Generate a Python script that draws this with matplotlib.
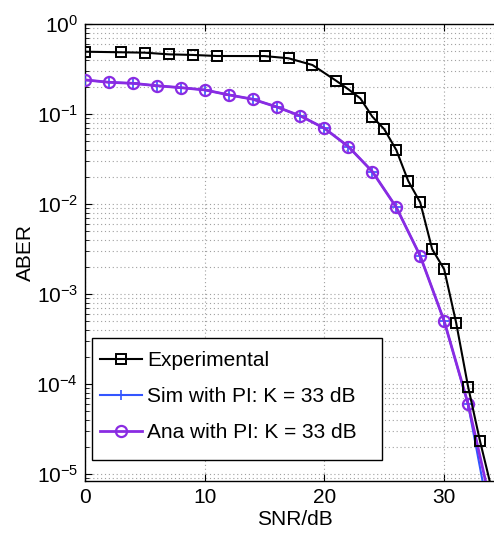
import matplotlib
matplotlib.use("Agg")
import matplotlib.pyplot as plt
from matplotlib.patches import Rectangle
from matplotlib.ticker import LogLocator, NullFormatter, FixedLocator

plt.rcParams['font.family'] = ['Liberation Sans', 'DejaVu Sans']
plt.rcParams['mathtext.fontset'] = 'custom'
plt.rcParams['mathtext.rm'] = 'Liberation Sans'
plt.rcParams['mathtext.it'] = 'Liberation Sans:italic'
plt.rcParams['mathtext.bf'] = 'Liberation Sans:bold'

# Data
exp_snr = [0, 3, 5, 7, 9, 11, 15, 17, 19, 21, 22, 23, 24, 25, 26, 27, 28, 29, 30, 31, 32, 33, 34]
exp_aber = [0.492, 0.485, 0.48, 0.46, 0.453, 0.441, 0.44, 0.416, 0.35, 0.233, 0.188, 0.149,
            0.0934, 0.0676, 0.0398, 0.018, 0.0104, 0.00314, 0.00188, 4.8e-4, 9.3e-5, 2.3e-5, 6.5e-6]

ana_snr = [0, 2, 4, 6, 8, 10, 12, 14, 16, 18, 20, 22, 24, 26, 28, 30, 32, 34]
ana_aber = [0.239, 0.225, 0.219, 0.206, 0.196, 0.185, 0.163, 0.146, 0.120, 0.095, 0.0693,
            0.0434, 0.0229, 0.00918, 0.00264, 5.0e-4, 6.0e-5, 4.0e-6]

sim_snr = [0, 2, 4, 6, 8, 10, 12, 14, 16, 18, 20, 22, 24, 26, 28, 30, 32, 34]
sim_aber = [0.239, 0.225, 0.219, 0.206, 0.196, 0.185, 0.163, 0.146, 0.120, 0.095, 0.0693,
            0.0434, 0.0229, 0.00918, 0.00264, 5.0e-4, 5.9e-5, 2.3e-6]

labels = ['Experimental', 'Sim with PI: K = 33 dB', 'Ana with PI: K = 33 dB']

fig = plt.figure(figsize=(4.94, 5.33), dpi=100)
ax = fig.add_axes([85/494, 1 - 481/533, (504 - 85)/494, (481 - 24)/533])

ax.plot(exp_snr, exp_aber, color='black', lw=1.5, marker='s', ms=7, mfc='none',
        mew=1.4, label=labels[0], zorder=5)
ax.plot(sim_snr, sim_aber, color='#3355ff', lw=1.5, marker='+', ms=7, mew=1.2,
        label=labels[1], zorder=3)
ax.plot(ana_snr, ana_aber, color='#8a2be2', lw=2.0, marker='o', ms=8, mfc='none',
        mew=1.6, label=labels[2], zorder=4)

ax.set_yscale('log')
ax.set_xlim(0, 35)
ax.set_ylim(10**-5.08, 1)
ax.xaxis.set_major_locator(FixedLocator([0, 10, 20, 30]))
ax.yaxis.set_major_locator(LogLocator(base=10, numticks=10))
ax.yaxis.set_minor_locator(LogLocator(base=10, subs=range(2, 10), numticks=20))
ax.yaxis.set_minor_formatter(NullFormatter())

gridkw = dict(color='#a0a0a0', linestyle=(0, (1, 2.5)), linewidth=0.8)
ax.grid(True, which='major', axis='both', **gridkw)
ax.grid(True, which='minor', axis='y', **gridkw)
ax.set_axisbelow(True)

ax.tick_params(which='both', direction='in', top=True, right=True, labelsize=15, pad=5)
ax.tick_params(which='major', length=5, width=0.8)
ax.tick_params(which='minor', length=3, width=0.6)
for s in ax.spines.values():
    s.set_linewidth(1.0)

ax.set_xlabel('SNR/dB', fontsize=15, labelpad=2)
ax.set_ylabel('ABER', fontsize=15, labelpad=1)

# MATLAB-style legend box (asymmetric padding)
frame = Rectangle((0.0167, 0.046), 0.692, 0.267, transform=ax.transAxes,
                  facecolor='white', edgecolor='black', linewidth=1.0, zorder=9)
ax.add_patch(frame)
leg = ax.legend(loc='center left', bbox_to_anchor=(0.0167, 0.185), fontsize=15,
                frameon=False, borderaxespad=0,
                handlelength=2.0, handletextpad=0.25, labelspacing=0.82,
                borderpad=0.4)
leg.set_zorder(10)

fig.savefig('out.png', dpi=100)
